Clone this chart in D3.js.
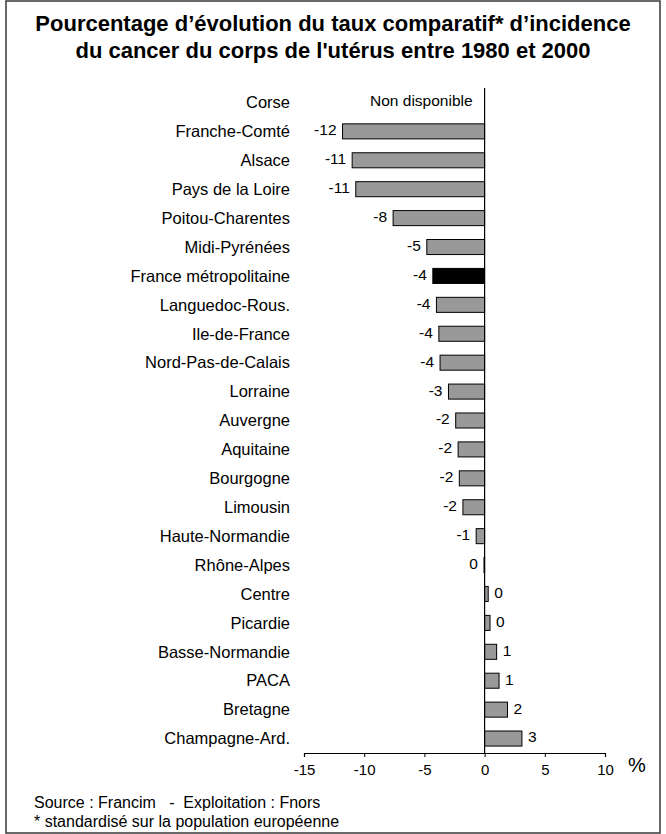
<!DOCTYPE html>
<html lang="fr">
<head>
<meta charset="utf-8">
<script src="https://cdn.jsdelivr.net/npm/d3@7/dist/d3.min.js"></script>
<style>
  html, body { margin: 0; padding: 0; background: #fff; }
  svg { display: block; font-family: "Liberation Sans", Arial, Helvetica, sans-serif; }
</style>
</head>
<body>
<svg id="chart" width="666" height="834"></svg>
<script>
// Régions, de la plus forte baisse à la plus forte hausse
const regions = [
  "Corse", "Franche-Comté", "Alsace", "Pays de la Loire", "Poitou-Charentes",
  "Midi-Pyrénées", "France métropolitaine", "Languedoc-Rous.", "Ile-de-France",
  "Nord-Pas-de-Calais", "Lorraine", "Auvergne", "Aquitaine", "Bourgogne",
  "Limousin", "Haute-Normandie", "Rhône-Alpes", "Centre", "Picardie",
  "Basse-Normandie", "PACA", "Bretagne", "Champagne-Ard."
];
// Évolution 1980-2000 en % (null = non disponible)
const evolution = [
  null, -11.8, -11.0, -10.7, -7.6,
  -4.8, -4.3, -4.0, -3.8,
  -3.7, -3.0, -2.4, -2.2, -2.1,
  -1.8, -0.7, -0.05, 0.3, 0.45,
  1.0, 1.2, 1.9, 3.1
];
const xTicks = [-15, -10, -5, 0, 5, 10];
const xDomain = [-15, 10];
const highlighted = "France métropolitaine";

const titleLines = [
  "Pourcentage d’évolution du taux comparatif* d’incidence",
  "du cancer du corps de l'utérus entre 1980 et 2000"
];
const sourceText = "Source : Francim   -  Exploitation : Fnors";
const noteText = "* standardisé sur la population européenne";
const missingText = "Non disponible";

const rows = regions.map((r, i) => ({ region: r, value: evolution[i] }));

const svg = d3.select("#chart");
const W = 666, H = 834;

// cadre
svg.append("rect")
  .attr("x", 6).attr("y", 1).attr("width", W - 12).attr("height", H - 2)
  .attr("fill", "#fff").attr("stroke", "#444").attr("stroke-width", 1.6);

// titre
svg.append("g").selectAll("text").data(titleLines).join("text")
  .attr("x", 333).attr("y", (d, i) => 31 + i * 27)
  .attr("text-anchor", "middle")
  .attr("font-size", 22).attr("font-weight", "bold").attr("fill", "#000")
  .text(d => d);

const x = d3.scaleLinear().domain(xDomain).range([304, 605]);
const y = d3.scaleBand().domain(regions).range([88, 753]).paddingInner(0.48).paddingOuter(0.24);

// barres
svg.append("g").selectAll("rect")
  .data(rows.filter(d => d.value !== null))
  .join("rect")
  .attr("x", d => x(Math.min(0, d.value)))
  .attr("y", d => y(d.region))
  .attr("width", d => Math.abs(x(d.value) - x(0)))
  .attr("height", y.bandwidth())
  .attr("fill", d => d.region === highlighted ? "#000" : "#999")
  .attr("stroke", "#000").attr("stroke-width", 1);

// libellés des régions
svg.append("g").selectAll("text").data(rows).join("text")
  .attr("x", 290)
  .attr("y", d => y(d.region) + y.bandwidth() / 2)
  .attr("dy", "0.35em")
  .attr("text-anchor", "end")
  .attr("font-size", 16.5).attr("fill", "#000")
  .text(d => d.region);

// valeurs
const fmt = v => String(Math.round(v) === 0 ? 0 : Math.round(v));
svg.append("g").selectAll("text").data(rows).join("text")
  .attr("x", d => d.value === null ? x(0) - 12 : (d.value < 0 ? x(d.value) - 6 : x(d.value) + 6))
  .attr("y", d => y(d.region) + y.bandwidth() / 2 - 1.5)
  .attr("dy", "0.35em")
  .attr("text-anchor", d => d.value === null || d.value < 0 ? "end" : "start")
  .attr("font-size", 15.5).attr("fill", "#000")
  .text(d => d.value === null ? missingText : fmt(d.value));

// axe vertical au zéro
svg.append("line")
  .attr("x1", x(0)).attr("x2", x(0))
  .attr("y1", y.range()[0]).attr("y2", y.range()[1])
  .attr("stroke", "#000").attr("stroke-width", 1.2);

// axe horizontal
const axis = svg.append("g")
  .attr("transform", `translate(0,${y.range()[1]})`)
  .call(d3.axisBottom(x).tickValues(xTicks).tickSize(4).tickSizeOuter(4).tickPadding(7)
    .tickFormat(d => String(d)));
axis.select(".domain").attr("stroke", "#000").attr("stroke-width", 1.2);
axis.selectAll(".tick line").attr("stroke", "#000");
axis.selectAll(".tick text").attr("font-size", 15).attr("fill", "#000")
  .attr("font-family", "\"Liberation Sans\", Arial, sans-serif");

svg.append("text")
  .attr("x", 628).attr("y", 772)
  .attr("font-size", 20).attr("fill", "#000")
  .text("%");

// sources
svg.append("text")
  .attr("x", 34).attr("y", 808)
  .attr("font-size", 16).attr("fill", "#000")
  .style("white-space", "pre")
  .text(sourceText);
svg.append("text")
  .attr("x", 34).attr("y", 827)
  .attr("font-size", 16).attr("fill", "#000")
  .text(noteText);
</script>
</body>
</html>
